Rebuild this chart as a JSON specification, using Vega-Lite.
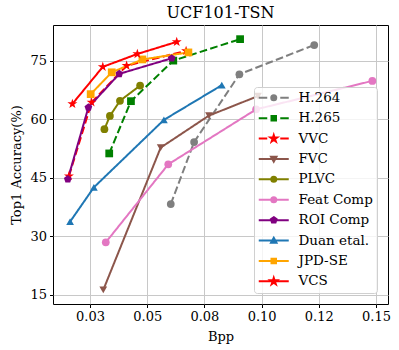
{
  "$schema": "https://vega.github.io/schema/vega-lite/v6.json",
  "width": 335,
  "height": 279,
  "autosize": {"type": "none"},
  "padding": {"left": 53, "top": 25, "right": 11, "bottom": 46},
  "background": "white",
  "title": {"text": "UCF101-TSN", "font": "DejaVu Serif", "fontSize": 16, "fontWeight": "normal", "color": "black", "offset": 4},
  "config": {
    "view": {"stroke": "black", "strokeWidth": 1},
    "axis": {
      "labelFont": "DejaVu Serif", "labelFontSize": 13, "labelColor": "black",
      "titleFont": "DejaVu Serif", "titleFontSize": 13, "titleFontWeight": "normal", "titleColor": "black",
      "tickColor": "black", "tickSize": 3.5, "tickWidth": 1, "domain": false,
      "gridColor": "#c8c8c8", "gridWidth": 1, "labelPadding": 3
    },
    "legend": {
      "orient": "none", "legendX": 201, "legendY": 62,
      "symbolSize": 100, "symbolStrokeWidth": 2, "symbolOpacity": 1, "symbolOffset": 9,
      "labelFont": "DejaVu Serif", "labelFontSize": 13.5, "labelColor": "black", "labelOffset": 18,
      "fillColor": "rgba(255,255,255,0.8)", "strokeColor": "#d0d0d0", "cornerRadius": 3,
      "padding": 4, "rowPadding": 5.4
    }
  },
  "data": {"values": [
    {"method": "H.264", "bpp": 0.0603, "acc": 38.3},
    {"method": "H.264", "bpp": 0.0705, "acc": 54.2},
    {"method": "H.264", "bpp": 0.0903, "acc": 71.6},
    {"method": "H.264", "bpp": 0.1230, "acc": 79.1},
    {"method": "H.265", "bpp": 0.0334, "acc": 51.3},
    {"method": "H.265", "bpp": 0.0429, "acc": 64.7},
    {"method": "H.265", "bpp": 0.0614, "acc": 75.1},
    {"method": "H.265", "bpp": 0.0906, "acc": 80.6},
    {"method": "VVC", "bpp": 0.0158, "acc": 45.5},
    {"method": "VVC", "bpp": 0.0257, "acc": 64.4},
    {"method": "VVC", "bpp": 0.0410, "acc": 73.8},
    {"method": "VVC", "bpp": 0.0670, "acc": 77.6},
    {"method": "FVC", "bpp": 0.0308, "acc": 16.3},
    {"method": "FVC", "bpp": 0.0559, "acc": 52.8},
    {"method": "FVC", "bpp": 0.0770, "acc": 61.0},
    {"method": "FVC", "bpp": 0.0984, "acc": 66.0},
    {"method": "PLVC", "bpp": 0.0313, "acc": 57.5},
    {"method": "PLVC", "bpp": 0.0337, "acc": 60.9},
    {"method": "PLVC", "bpp": 0.0381, "acc": 64.8},
    {"method": "PLVC", "bpp": 0.0469, "acc": 68.7},
    {"method": "Feat Comp", "bpp": 0.0319, "acc": 28.5},
    {"method": "Feat Comp", "bpp": 0.0592, "acc": 48.5},
    {"method": "Feat Comp", "bpp": 0.0976, "acc": 62.6},
    {"method": "Feat Comp", "bpp": 0.1484, "acc": 69.9},
    {"method": "ROI Comp", "bpp": 0.0153, "acc": 44.7},
    {"method": "ROI Comp", "bpp": 0.0243, "acc": 63.1},
    {"method": "ROI Comp", "bpp": 0.0378, "acc": 71.7},
    {"method": "ROI Comp", "bpp": 0.0607, "acc": 75.7},
    {"method": "Duan etal.", "bpp": 0.0163, "acc": 33.8},
    {"method": "Duan etal.", "bpp": 0.0267, "acc": 42.6},
    {"method": "Duan etal.", "bpp": 0.0573, "acc": 59.9},
    {"method": "Duan etal.", "bpp": 0.0826, "acc": 68.8},
    {"method": "JPD-SE", "bpp": 0.0253, "acc": 66.5},
    {"method": "JPD-SE", "bpp": 0.0345, "acc": 72.1},
    {"method": "JPD-SE", "bpp": 0.0479, "acc": 75.4},
    {"method": "JPD-SE", "bpp": 0.0680, "acc": 77.2},
    {"method": "VCS", "bpp": 0.0173, "acc": 64.0},
    {"method": "VCS", "bpp": 0.0306, "acc": 73.5},
    {"method": "VCS", "bpp": 0.0457, "acc": 76.8},
    {"method": "VCS", "bpp": 0.0629, "acc": 79.9}
  ]},
  "encoding": {
    "x": {"field": "bpp", "type": "quantitative", "title": "Bpp",
      "scale": {"domain": [0.00883, 0.15524], "nice": false, "zero": false},
      "axis": {"values": [0.025, 0.05, 0.075, 0.1, 0.125, 0.15], "titlePadding": 7,
        "labelExpr": "datum.value == 0.025 ? '0.03' : datum.value == 0.075 ? '0.08' : datum.value == 0.125 ? '0.12' : format(datum.value, '.2f')"}},
    "y": {"field": "acc", "type": "quantitative", "title": "Top1 Accuracy(%)",
      "scale": {"domain": [12.69, 84.23], "nice": false, "zero": false},
      "axis": {"values": [15, 30, 45, 60, 75], "titlePadding": 6}},
    "color": {"field": "method", "type": "nominal", "legend": null,
      "scale": {
        "domain": ["H.264", "H.265", "VVC", "FVC", "PLVC", "Feat Comp", "ROI Comp", "Duan etal.", "JPD-SE", "VCS"],
        "range": ["#7f7f7f", "#008000", "#ff0000", "#8c564b", "#808000", "#e377c2", "#800080", "#1f77b4", "#ffa500", "#ff0000"]}}
  },
  "layer": [
    {
      "mark": {"type": "line", "strokeWidth": 2},
      "encoding": {
        "strokeDash": {"field": "method", "type": "nominal", "legend": null,
          "scale": {
            "domain": ["H.264", "H.265", "VVC", "FVC", "PLVC", "Feat Comp", "ROI Comp", "Duan etal.", "JPD-SE", "VCS"],
            "range": [[7.7, 3.3], [7.7, 3.3], [7.7, 3.3], [1, 0], [1, 0], [1, 0], [1, 0], [1, 0], [1, 0], [1, 0]]}}
      }
    },
    {
      "mark": {"type": "point", "filled": true, "opacity": 1, "size": 60},
      "encoding": {
        "shape": {"field": "method", "type": "nominal", "legend": null,
          "scale": {
            "domain": ["H.264", "H.265", "VVC", "FVC", "PLVC", "Feat Comp", "ROI Comp", "Duan etal.", "JPD-SE", "VCS"],
            "range": [
              "circle", "square",
              "M0,-1.35L0.303,-0.417L1.284,-0.417L0.491,0.159L0.794,1.092L0,0.516L-0.794,1.092L-0.491,0.159L-1.284,-0.417L-0.303,-0.417Z",
              "triangle-down", "circle", "circle",
              "M0,-1.05L1,-0.325L0.618,0.85L-0.618,0.85L-1,-0.325Z",
              "triangle-up", "square",
              "M0,-1.35L0.303,-0.417L1.284,-0.417L0.491,0.159L0.794,1.092L0,0.516L-0.794,1.092L-0.491,0.159L-1.284,-0.417L-0.303,-0.417Z"
            ]}}
      }
    },
    {
      "mark": {"type": "point", "filled": true, "opacity": 0, "size": 100},
      "encoding": {
        "shape": {"field": "method", "type": "nominal",
          "legend": {"title": null,
            "symbolFillColor": {"expr": "scale('color', datum.value)"},
            "symbolStrokeColor": {"expr": "scale('color', datum.value)"}},
          "scale": {
            "domain": ["H.264", "H.265", "VVC", "FVC", "PLVC", "Feat Comp", "ROI Comp", "Duan etal.", "JPD-SE", "VCS"],
            "range": [
              "M-3,0H-1.3M1.3,0H3M0.5,0A0.5,0.5,0,1,1,-0.5,0A0.5,0.5,0,1,1,0.5,0Z",
              "M-3,0H-1.3M1.3,0H3M-0.45,-0.45H0.45V0.45H-0.45Z",
              "M-3,0H-1.3M1.3,0H3M0,-0.7L0.157,-0.216L0.666,-0.216L0.254,0.083L0.411,0.566L0,0.268L-0.411,0.566L-0.254,0.083L-0.666,-0.216L-0.157,-0.216Z",
              "M-3,0H3M-0.55,-0.45L0.55,-0.45L0,0.55Z",
              "M-3,0H3M0.5,0A0.5,0.5,0,1,1,-0.5,0A0.5,0.5,0,1,1,0.5,0Z",
              "M-3,0H3M0.5,0A0.5,0.5,0,1,1,-0.5,0A0.5,0.5,0,1,1,0.5,0Z",
              "M-3,0H3M0,-0.6L0.571,-0.185L0.353,0.485L-0.353,0.485L-0.571,-0.185Z",
              "M-3,0H3M0,-0.55L0.55,0.45L-0.55,0.45Z",
              "M-3,0H3M-0.45,-0.45H0.45V0.45H-0.45Z",
              "M-3,0H3M0,-0.7L0.157,-0.216L0.666,-0.216L0.254,0.083L0.411,0.566L0,0.268L-0.411,0.566L-0.254,0.083L-0.666,-0.216L-0.157,-0.216Z"
            ]}}
      }
    }
  ],
  "resolve": {"scale": {"shape": "independent"}, "legend": {"shape": "independent"}}
}
